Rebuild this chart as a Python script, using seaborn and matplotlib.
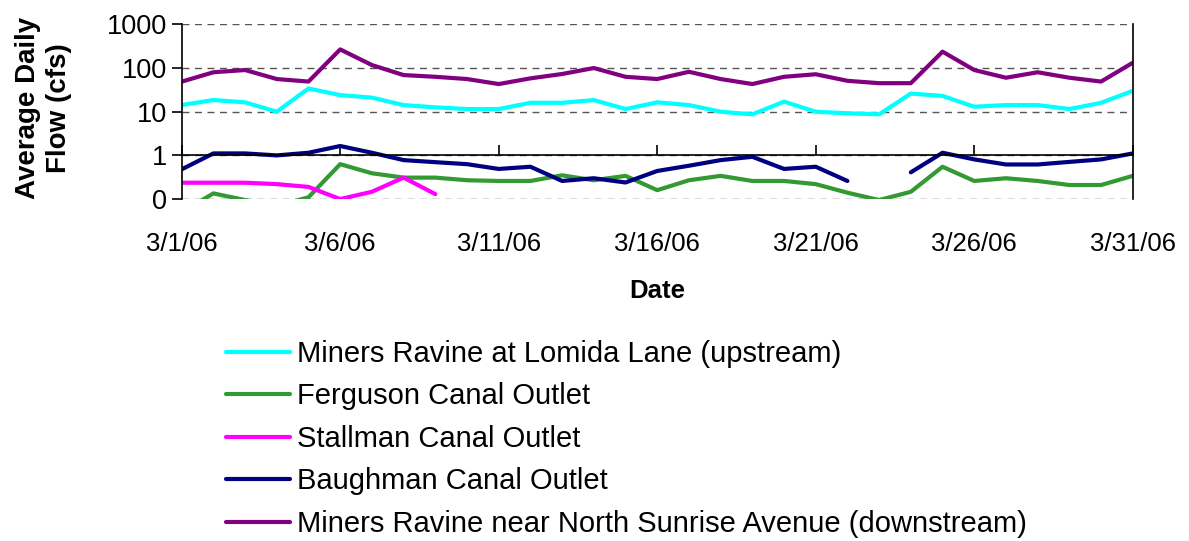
import numpy as np
import pandas as pd
import matplotlib
matplotlib.use('Agg')
import matplotlib.pyplot as plt
import seaborn as sns

sns.set_theme(style="white")
plt.rcParams['font.family'] = ['Liberation Sans', 'DejaVu Sans']
plt.rcParams['text.color'] = 'black'
plt.rcParams['axes.labelcolor'] = 'black'
plt.rcParams['xtick.color'] = 'black'
plt.rcParams['ytick.color'] = 'black'

dates = pd.date_range('2006-03-01', '2006-03-31', freq='D')
tick_dates = pd.date_range('2006-03-01', '2006-03-31', freq='5D')
tick_labels = ['3/1/06', '3/6/06', '3/11/06', '3/16/06', '3/21/06', '3/26/06', '3/31/06']
y_ticks = [0.1, 1, 10, 100, 1000]
y_tick_labels = ['0', '1', '10', '100', '1000']

sites = ['Miners Ravine at Lomida Lane (upstream)',
         'Ferguson Canal Outlet',
         'Stallman Canal Outlet',
         'Baughman Canal Outlet',
         'Miners Ravine near North Sunrise Avenue (downstream)']
colors = ['#00FFFF', '#339933', '#FF00FF', '#000080', '#800080']

nan = np.nan
lomida = [14.2, 18.5, 16.4, 10, 34, 24, 21, 14.2, 12.6, 11.5,
          11.5, 16, 16, 18.5, 11.5, 16.4, 14.2, 10, 8.7, 17,
          10, 9.2, 8.7, 26, 23, 13, 14.2, 14.2, 11.5, 16, 30]
ferguson = [0.05, 0.135, 0.095, 0.07, 0.11, 0.63, 0.39, 0.31, 0.31, 0.27,
            0.26, 0.26, 0.35, 0.27, 0.34, 0.16, 0.27, 0.34, 0.26, 0.26,
            0.22, 0.14, 0.095, 0.147, 0.55, 0.26, 0.30, 0.26, 0.21, 0.21, 0.34]
stallman = [0.237, 0.237, 0.237, 0.22, 0.19, 0.1, 0.147, 0.31, 0.13, nan,
            nan, nan, nan, nan, nan, nan, nan, nan, nan, nan,
            nan, nan, nan, nan, nan, nan, nan, nan, nan, nan, nan]
baughman = [0.48, 1.11, 1.11, 1.0, 1.15, 1.64, 1.15, 0.78, 0.70, 0.63,
            0.49, 0.55, 0.26, 0.30, 0.24, 0.44, 0.58, 0.78, 0.93, 0.49,
            0.55, 0.26, nan, 0.41, 1.15, 0.81, 0.62, 0.62, 0.71, 0.81, 1.11]
sunrise = [48.7, 80, 90, 56, 49, 267, 117, 69, 63, 56,
           43, 58, 73, 100, 63, 56, 82, 56, 43, 63,
           72, 51, 45, 45, 237, 90, 60, 80, 60, 49, 132]

# long form; a new segment starts after each missing day so gaps stay open
rows = []
for site, vals in zip(sites, [lomida, ferguson, stallman, baughman, sunrise]):
    seg = 0
    for d, v in zip(dates, vals):
        if np.isnan(v):
            seg += 1
            continue
        rows.append({'date': d, 'flow': v, 'site': site, 'seg': seg})
df = pd.DataFrame(rows)

fig, ax = plt.subplots(figsize=(11.89, 5.41), dpi=100)
fig.subplots_adjust(left=0.1528, right=0.9527, top=0.955, bottom=0.632)

sns.lineplot(data=df, x='date', y='flow', hue='site', units='seg', estimator=None,
             hue_order=sites, palette=colors, linewidth=3, ax=ax)

ax.set_yscale('log')
ax.set_ylim(0.1, 1000)
ax.set_xlim(dates[0], dates[-1])
ax.set_yticks(y_ticks)
ax.set_yticklabels(y_tick_labels)
ax.minorticks_off()
ax.set_xticks(tick_dates)
ax.set_xticklabels(tick_labels)

ax.grid(axis='y', color='#555555', linestyle=(0, (5, 4)), linewidth=1)
ax.set_axisbelow(True)
ax.spines['top'].set_visible(False)
ax.spines['bottom'].set_position(('data', 1))
for s in ['left', 'right', 'bottom']:
    ax.spines[s].set_color('black')
    ax.spines[s].set_linewidth(1.2)

ax.tick_params(axis='x', direction='in', length=7, width=1.2, color='black',
               pad=55, labelsize=18.5, bottom=True)
ax.tick_params(axis='y', direction='out', length=7, width=1.2, color='black',
               labelsize=19.5, left=True)

ax.set_xlabel('Date', fontsize=18.5, fontweight='bold', labelpad=17)
ax.set_ylabel('Average Daily\nFlow (cfs)', fontsize=20, fontweight='bold', linespacing=1.25)
ax.yaxis.set_label_coords(-0.115, 0.52)

sns.move_legend(ax, loc='upper left', bbox_to_anchor=(0.19, 0.372),
                bbox_transform=fig.transFigure, frameon=False, title=None,
                fontsize=21, handlelength=2.2, handletextpad=0.25,
                labelspacing=0.5, borderpad=0, borderaxespad=0)

fig.savefig('out.png', dpi=100)
